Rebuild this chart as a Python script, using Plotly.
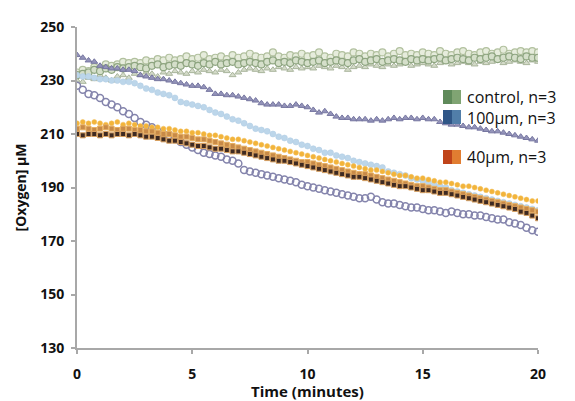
import plotly.graph_objects as go

TIME = [0, 0.25, 0.5, 0.75, 1, 1.25, 1.5, 1.75, 2, 2.25,
        2.5, 2.75, 3, 3.25, 3.5, 3.75, 4, 4.25, 4.5, 4.75,
        5, 5.25, 5.5, 5.75, 6, 6.25, 6.5, 6.75, 7, 7.25,
        7.5, 7.75, 8, 8.25, 8.5, 8.75, 9, 9.25, 9.5, 9.75,
        10, 10.25, 10.5, 10.75, 11, 11.25, 11.5, 11.75, 12, 12.25,
        12.5, 12.75, 13, 13.25, 13.5, 13.75, 14, 14.25, 14.5, 14.75,
        15, 15.25, 15.5, 15.75, 16, 16.25, 16.5, 16.75, 17, 17.25,
        17.5, 17.75, 18, 18.25, 18.5, 18.75, 19, 19.25, 19.5, 19.75,
        20]

CONTROL_1 = [233, 234, 233.5, 235, 234.5, 236, 235.5, 236, 237, 236.5,
             237, 236.5, 237.5, 237, 238, 237.5, 238.5, 237.5, 238, 239,
             238, 238.5, 239.5, 238, 238.5, 239, 238, 239.5, 238.5, 239,
             240, 239, 238.5, 239, 240.5, 239, 238.5, 239.5, 239, 240,
             239, 239.5, 240.5, 239, 238.5, 240, 239.5, 239, 240.5, 240,
             239, 240, 239.5, 240.5, 239, 240, 241, 239.5, 240, 239.5,
             240.5, 240, 239.5, 241, 240, 239.5, 240.5, 241, 240, 239.5,
             240.5, 241, 240, 240.5, 241.5, 240, 240.5, 241, 240.5, 241,
             240.5]
CONTROL_2 = [232, 232.5, 233, 234, 233.5, 234.5, 234, 235, 234.5, 235,
             235.5, 235, 234.5, 235.5, 236, 235, 235.5, 236, 235.5, 236.5,
             236, 235.5, 236.5, 236, 237, 236, 236.5, 237, 236, 236.5,
             237, 236.5, 236, 237, 237.5, 236.5, 237, 236.5, 237.5, 237,
             236.5, 237, 237.5, 236.5, 237, 237.5, 237, 236.5, 237.5, 238,
             237, 237.5, 238, 237, 237.5, 238, 237.5, 237, 238, 237.5,
             238, 237.5, 238, 238.5, 237.5, 238, 238.5, 238, 237.5, 238.5,
             238, 238.5, 239, 238, 238.5, 239, 238.5, 238, 239, 238.5,
             238.5]
CONTROL_3 = [230, 229.5, 231, 230.5, 232, 231, 230, 231.5, 232, 231,
             232.5, 232, 233, 232.5, 231.5, 233, 232.5, 233.5, 233, 232.5,
             233.5, 233, 234, 233.5, 233, 234, 233.5, 232, 233, 234,
             234.5, 234, 233.5, 234.5, 234, 235, 234.5, 234, 235, 234.5,
             235, 234.5, 235.5, 235, 234.5, 235.5, 235, 234, 235, 235.5,
             235, 236, 235.5, 235, 236, 235.5, 236, 236.5, 235.5, 236,
             236.5, 236, 235.5, 236.5, 237, 236, 236.5, 237, 236.5, 236,
             237, 236.5, 237, 237.5, 236.5, 237, 237.5, 237, 236.5, 237.5,
             237]

UM100_1 = [239.5, 238.5, 237.5, 237, 235.5, 235, 234.5, 234.5, 234, 234,
           233.5, 232, 231.5, 231, 230.5, 230.5, 230, 229.5, 229, 228.5,
           228, 228, 227.5, 226.5, 225, 225, 224.5, 224.5, 224, 223.5,
           223, 222.5, 221.5, 221, 221, 221, 220.5, 220.5, 221, 220.5,
           220, 219, 218, 218.5, 217.5, 216.5, 216, 216, 215.5, 215.5,
           215.5, 215, 215.5, 215, 215.5, 216, 215.5, 216, 216, 215.5,
           216, 215.5, 215.5, 214.5, 214, 213.5, 213.5, 213, 212.5, 212.5,
           212, 211.5, 211, 211, 210.5, 210, 209.5, 209, 208.5, 208,
           207.5]
UM100_2 = [232, 231.5, 231.5, 231, 230.5, 230.5, 230, 230, 229.5, 229.5,
           229, 228, 227, 226.5, 225.5, 225, 224.5, 223.5, 222, 221.5,
           221, 220.5, 220, 219, 218, 217.5, 216.5, 215.5, 215, 214,
           213, 212, 211.5, 211, 210, 209, 208.5, 207.5, 207, 206,
           205.5, 204.5, 204, 203, 203, 202, 201.5, 201, 200, 199.5,
           199, 198.5, 198, 197.5, 196, 195.5, 195, 194.5, 193.5, 193,
           192.5, 192, 191, 190.5, 190, 189, 188.5, 188, 187.5, 187,
           186.5, 186, 185.5, 185, 184.5, 184, 183.5, 183, 182.5, 182,
           181.5]
UM100_3 = [228, 226.5, 225, 224.5, 223.5, 222, 221, 220, 218.5, 217.5,
           216, 214.5, 213.5, 212.5, 211, 210, 209.5, 208.5, 207, 206,
           205, 204, 203, 202.5, 202, 201.5, 200.5, 200, 199, 196.5,
           196, 195.5, 195, 194.5, 194, 193.5, 193, 192.5, 192, 191,
           190.5, 190, 189.5, 189, 188.5, 188, 187.5, 187, 186.5, 186,
           186, 186.5, 185.5, 184.5, 184, 184, 183.5, 183, 182.5, 182.5,
           182, 181.5, 181.5, 181, 180.5, 181, 180.5, 180, 180, 179.5,
           179.5, 179, 178.5, 178, 178, 177, 176.5, 176, 175, 174,
           173.5]

UM40_1 = [214, 214.5, 214, 214.5, 214, 213.5, 214, 214.5, 213.5, 214,
          213.5, 213, 213, 212.5, 212.5, 212, 212, 211.5, 211, 211,
          210.5, 210.5, 210, 209.5, 209.5, 209, 208.5, 208, 208, 207.5,
          207, 206.5, 206, 205.5, 205, 204.5, 204, 203.5, 203, 202.5,
          202, 201.5, 201, 200.5, 200, 199.5, 199, 198.5, 198, 197.5,
          197, 196.5, 196.5, 196, 195.5, 195, 194.5, 194.5, 194, 193.5,
          193.5, 193, 192.5, 192, 192, 191.5, 191, 190.5, 190.5, 190,
          189.5, 189, 188.5, 188, 187.5, 187, 186.5, 186, 185.5, 185,
          185]
UM40_2 = [212, 212.5, 212, 211.5, 212, 212.5, 212, 211.5, 212, 212,
          211.5, 211.5, 211, 211, 210.5, 210, 210, 209.5, 209, 209,
          208.5, 208, 208, 207.5, 207, 206.5, 206, 205.5, 205, 204.5,
          204, 203.5, 203, 202.5, 202, 201.5, 201, 200.5, 200, 199.5,
          199.5, 199, 198.5, 198, 197.5, 197, 196.5, 196, 195.5, 195,
          195, 194.5, 194, 193.5, 193, 192.5, 192, 191.5, 191, 190.5,
          190.5, 190, 189.5, 189, 189, 188.5, 188, 187.5, 187, 186.5,
          186, 185.5, 185, 184.5, 184, 183.5, 183, 182.5, 182, 181.5,
          181]
UM40_3 = [210, 209.5, 210, 210, 209.5, 210, 209.5, 210, 210, 209.5,
          210, 209.5, 209, 209, 208.5, 208, 207.5, 207.5, 207, 206.5,
          206, 205.5, 205.5, 205, 204.5, 204.5, 204, 203.5, 203.5, 203,
          202.5, 202, 201.5, 201, 200.5, 200, 200, 199.5, 199, 198.5,
          198, 197.5, 197, 196.5, 196, 195.5, 195, 194.5, 194, 194,
          193.5, 193, 192.5, 192, 191.5, 191, 190.5, 190.5, 190, 189.5,
          189, 189, 188.5, 188, 188, 187.5, 187, 186.5, 186, 185.5,
          185, 184.5, 184, 183.5, 183, 182.5, 182, 181, 180.5, 179.5,
          178.5]

LEGEND_LABELS = ["control, n=3", "100\u00b5m, n=3", "40\u00b5m, n=3"]
X_TICKS = [0, 5, 10, 15, 20]
Y_TICKS = [130, 150, 170, 190, 210, 230, 250]

series = [
    (CONTROL_3, dict(symbol="triangle-up", size=6, color="#d4dbc9", line=dict(color="#a9b59c", width=1))),
    (CONTROL_1, dict(symbol="circle", size=7, color="#e6ecdc", line=dict(color="#b1c09e", width=1.2))),
    (CONTROL_2, dict(symbol="circle", size=7, color="#d5dfca", line=dict(color="#8ea580", width=1.2))),
    (UM100_1, dict(symbol="triangle-up", size=6, color="#9494ba", line=dict(color="#7676a0", width=1))),
    (UM100_2, dict(symbol="circle", size=6, color="#bcd6ea", line=dict(color="#aecbe2", width=0.5))),
    (UM100_3, dict(symbol="circle-open", size=7, color="#8484ac", line=dict(color="#8484ac", width=1.5))),
    (UM40_1, dict(symbol="circle", size=5, color="#f3b43a", line=dict(color="#f0c060", width=0.5))),
    (UM40_2, dict(symbol="square", size=5, color="#c88a48", line=dict(color="#e8b060", width=1))),
    (UM40_3, dict(symbol="square", size=5, color="#3e2a22", line=dict(color="#d8a060", width=1))),
]

fig = go.Figure()
for ys, mk in series:
    fig.add_trace(go.Scatter(x=TIME, y=ys, mode="markers", marker=mk,
                             showlegend=False, hoverinfo="skip"))

# plot-area pixel geometry for placing the legend
L, R, T, B = 77, 538, 27, 348
def px(xp):
    return (xp - L) / (R - L)
def py(yp):
    return (B - yp) / (B - T)

legend_rows = [(97, "#5f8a5a", "#8faf7e"), (117, "#2f5687", "#5f90b8"), (157, "#c0441a", "#f0963c")]
shapes = []
for (yc, c1, c2) in legend_rows:
    shapes.append(dict(type="rect", xref="paper", yref="paper",
                       x0=px(443), x1=px(461), y0=py(yc + 7), y1=py(yc - 7),
                       fillcolor=c1, line=dict(width=0), layer="above"))
    shapes.append(dict(type="rect", xref="paper", yref="paper",
                       x0=px(452), x1=px(461), y0=py(yc + 7), y1=py(yc - 7),
                       fillcolor=c2, opacity=0.7, line=dict(width=0), layer="above"))

legend_font = dict(family="Open Sans", size=16, color="#111")
annotations = [
    dict(xref="paper", yref="paper", x=px(465), y=py(107), xanchor="left", yanchor="middle",
         align="left", showarrow=False, text=LEGEND_LABELS[0] + "<br>" + LEGEND_LABELS[1],
         font=legend_font),
    dict(xref="paper", yref="paper", x=px(465), y=py(157), xanchor="left", yanchor="middle",
         align="left", showarrow=False, text=LEGEND_LABELS[2], font=legend_font),
]

fig.update_layout(
    width=575, height=401,
    margin=dict(l=L, r=575 - R, t=T, b=401 - B),
    paper_bgcolor="white", plot_bgcolor="white",
    shapes=shapes, annotations=annotations,
    showlegend=False,
)
fig.update_xaxes(range=[0, 20], tickvals=X_TICKS, ticktext=[str(v) for v in X_TICKS],
                 automargin=False,
                 showgrid=False, zeroline=False, showline=True, linecolor="#a8a8a8", linewidth=2,
                 ticks="outside", ticklen=4, tickcolor="#a8a8a8", tickwidth=2,
                 ticklabelstandoff=8,
                 tickfont=dict(family="Open Sans", size=14, color="#111", weight="bold"),
                 title=dict(text="Time (minutes)", standoff=0,
                            font=dict(family="Open Sans", size=15, color="#111", weight="bold")))
fig.update_yaxes(range=[130, 250], tickvals=Y_TICKS,
                 automargin=False,
                 showgrid=False, zeroline=False, showline=True, linecolor="#a8a8a8", linewidth=2,
                 ticks="outside", ticklen=4, tickcolor="#a8a8a8", tickwidth=2,
                 ticklabelstandoff=4,
                 tickfont=dict(family="Open Sans", size=14, color="#111", weight="bold"),
                 title=dict(text="[Oxygen] \u00b5M", standoff=10,
                            font=dict(family="Open Sans", size=14, color="#111", weight="bold")))

fig.write_html("out.html", config={"displayModeBar": False},
               post_script="document.body.style.margin='0';")
